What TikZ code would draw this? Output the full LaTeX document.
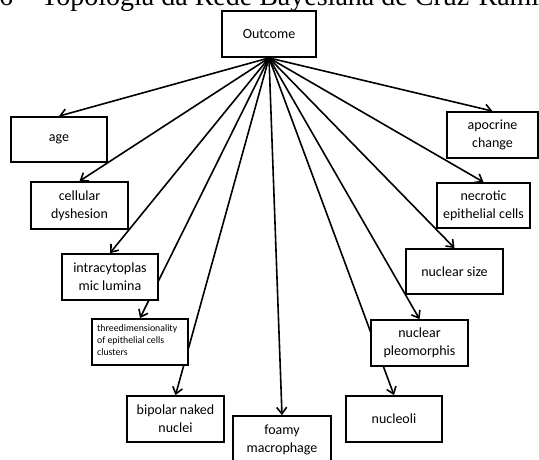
\documentclass[tikz,border=0pt]{standalone}
\usepackage{fontspec}
\setmainfont{Carlito}
\newfontfamily\titlefont{Liberation Serif}
\usetikzlibrary{arrows.meta}
\pgfdeclarelayer{background}
\pgfsetlayers{background,main}
\tikzset{
  box/.style={draw, line width=1.8pt, fill=white, inner sep=0pt, align=center,
    font=\fontsize{14}{18}\selectfont},
  arr/.style={line width=1.6pt, -{Straight Barb[length=6.5pt,width=10pt]}},
}
\begin{document}
\begin{tikzpicture}[x=1pt,y=-1pt]
\clip (0,0) rectangle (539,459);
\useasboundingbox (0,0) rectangle (539,459);
% title (cut off at top)
\node[anchor=base west, inner sep=0pt, font=\titlefont\fontsize{28}{30}\selectfont] (title) at (-1,5) {6\hspace*{28pt}Topologia da Rede Bayesiana de Cruz-Ramirez};
% boxes
\node[box, minimum width=94pt, minimum height=46pt] (outcome) at (269,34) {Outcome};
\node[box, minimum width=96pt, minimum height=45pt] (age) at (59,139.5) {age};
\node[box, minimum width=97pt, minimum height=47pt] (cell) at (79.5,205.5) {cellular\\dyshesion};
\node[box, minimum width=96pt, minimum height=46pt] (intra) at (110,277) {intracytoplas\\mic lumina};
\node[box, minimum width=96pt, minimum height=46pt] (three) at (140,342) {};
\node[anchor=north west, inner sep=0pt, align=left, font=\fontsize{9.8}{12}\selectfont] (threetext) at (97,324) {threedimensionality\\of epithelial cells\\clusters};
\node[box, minimum width=97pt, minimum height=46pt] (bipolar) at (175.5,419) {bipolar naked\\nuclei};
\node[box, minimum width=98pt, minimum height=47pt] (foamy) at (282,439.5) {foamy\\macrophage};
\node[box, minimum width=96pt, minimum height=46pt] (nucleoli) at (394,419) {nucleoli};
\node[box, minimum width=97pt, minimum height=46pt] (pleo) at (419.5,343) {nuclear\\pleomorphis};
\node[box, minimum width=97pt, minimum height=45pt] (size) at (454.5,271.5) {nuclear size};
\node[box, minimum width=93pt, minimum height=45pt] (necro) at (483.5,205.5) {necrotic\\epithelial cells};
\node[box, minimum width=91pt, minimum height=46pt] (apo) at (492.5,135) {apocrine\\change};
% arrows
\begin{pgfonlayer}{background}
\foreach \t in {age,cell,intra,three,bipolar,foamy,nucleoli,pleo,size,necro,apo}
  \draw[arr] (outcome.south) -- (\t.north);
\end{pgfonlayer}
\end{tikzpicture}
\end{document}
